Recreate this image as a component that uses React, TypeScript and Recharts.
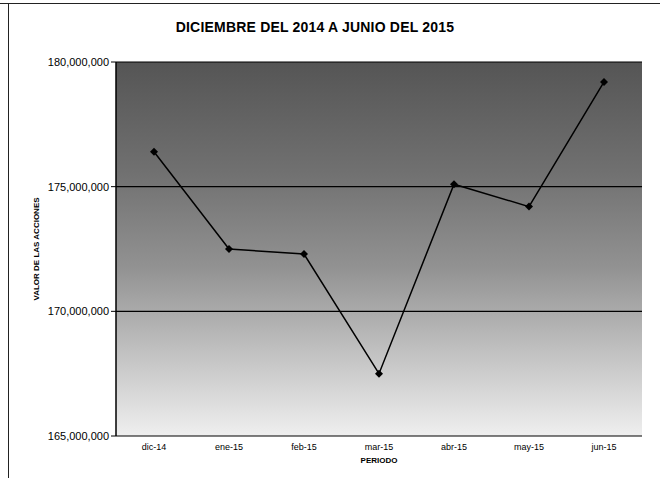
import { LineChart, Line, XAxis, YAxis, CartesianGrid, ReferenceArea } from 'recharts';

const periods = ['dic-14', 'ene-15', 'feb-15', 'mar-15', 'abr-15', 'may-15', 'jun-15'];
const valores = [176400000, 172500000, 172300000, 167500000, 175100000, 174200000, 179200000];
const yTicks = [165000000, 170000000, 175000000, 180000000];
const edgeTicks = [0, 1, 2, 3, 4, 5, 6, 7];

const data = periods.map((p, i) => ({ periodo: p, valor: valores[i] }));

const font = 'Arial, "Liberation Sans", sans-serif';

const Diamond = (props: any) => {
    const { cx, cy, index } = props;
    if (cx == null || cy == null) return null;
    const s = 4;
    return <path key={index} d={`M${cx},${cy - s}L${cx + s},${cy}L${cx},${cy + s}L${cx - s},${cy}Z`} fill="#000" />;
};

export default function App() {
    return (
        <div style={{ position: 'absolute', left: 0, top: 0, width: 660, height: 478, background: '#fff', fontFamily: font }}>
            <div style={{ position: 'absolute', left: 0, top: 3, width: 660, height: 1, background: '#222' }} />
            <div style={{ position: 'absolute', left: 8, top: 4, width: 1, height: 474, background: '#222' }} />
            <div style={{ position: 'absolute', left: 0, width: 630, top: 19, textAlign: 'center', fontWeight: 'bold', fontSize: 14, letterSpacing: 0.2, color: '#000' }}>
                DICIEMBRE DEL 2014 A JUNIO DEL 2015
            </div>
            <LineChart width={660} height={478} data={data} margin={{ top: 62, right: 18, left: 8, bottom: 0 }}>
                <defs>
                    <linearGradient id="fondo" x1="0" y1="0" x2="0" y2="1">
                        <stop offset="0%" stopColor="#555555" />
                        <stop offset="30%" stopColor="#717171" />
                        <stop offset="55%" stopColor="#929292" />
                        <stop offset="78%" stopColor="#c2c2c2" />
                        <stop offset="100%" stopColor="#efefef" />
                    </linearGradient>
                </defs>
                <CartesianGrid xAxisId="cat" vertical={false} stroke="#000" strokeWidth={1.2} fill="url(#fondo)" fillOpacity={1} />
                <XAxis
                    xAxisId="edge"
                    type="number"
                    domain={[0, 7]}
                    ticks={edgeTicks}
                    height={0}
                    tickFormatter={() => ''}
                    axisLine={{ stroke: '#000', strokeWidth: 1.5 }}
                    tickLine={{ stroke: '#000' }}
                    tickSize={5}
                />
                <XAxis
                    xAxisId="cat"
                    dataKey="periodo"
                    height={42}
                    padding={{ left: 38, right: 38 }}
                    axisLine={false}
                    tickLine={false}
                    interval={0}
                    tick={{ fill: '#000', fontSize: 9, fontFamily: font }}
                    label={{ value: 'PERIODO', position: 'insideBottom', offset: 15, fill: '#000', fontSize: 8, fontWeight: 'bold', fontFamily: font }}
                />
                <YAxis
                    width={108}
                    domain={[165000000, 180000000]}
                    ticks={yTicks}
                    tickFormatter={(v: number) => v.toLocaleString('en-US')}
                    axisLine={{ stroke: '#000', strokeWidth: 1.5 }}
                    tickLine={{ stroke: '#000' }}
                    tickSize={5}
                    tick={{ fill: '#000', fontSize: 11, fontFamily: font }}
                    label={{ value: 'VALOR DE LAS ACCIONES', angle: -90, position: 'insideLeft', offset: 28, fill: '#000', fontSize: 8, fontWeight: 'bold', fontFamily: font, style: { textAnchor: 'middle' } }}
                />
                <ReferenceArea xAxisId="edge" x1={0} x2={7} y1={165000000} y2={180000000} fill="none" stroke="#000" strokeWidth={1.5} />
                <Line
                    xAxisId="cat"
                    type="linear"
                    dataKey="valor"
                    stroke="#000"
                    strokeWidth={1.5}
                    dot={<Diamond />}
                    activeDot={false}
                    isAnimationActive={false}
                />
            </LineChart>
        </div>
    );
}
